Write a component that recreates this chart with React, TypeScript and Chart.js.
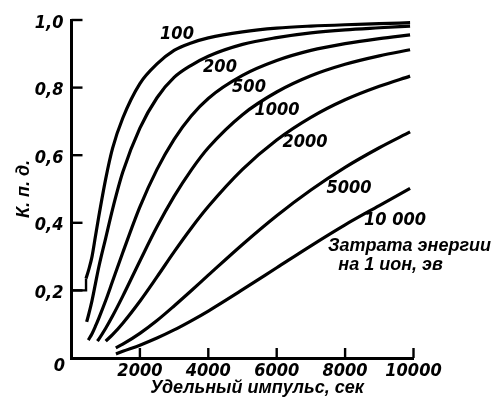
import React, { useEffect, useRef } from "react";
import { Chart, registerables } from "chart.js";

Chart.register(...registerables);

// Energy cost per ion, eV (curve labels)
const energyLabels = ["100", "200", "500", "1000", "2000", "5000", "10 000"];

// Specific impulse (s) and efficiency for each curve
const isp100 = [425, 500, 600, 700, 800, 1000, 1200, 1500, 2000, 2500, 3000, 3500, 4000, 5000, 6000, 7000, 8000, 9000, 9900];
const eff100 = [0.235, 0.26, 0.3, 0.36, 0.42, 0.53, 0.62, 0.71, 0.812, 0.87, 0.91, 0.932, 0.947, 0.965, 0.976, 0.982, 0.986, 0.989, 0.992];

const isp200 = [444, 500, 600, 700, 800, 1000, 1200, 1500, 2000, 2500, 3000, 3500, 4000, 5000, 6000, 7000, 8000, 9000, 9900];
const eff200 = [0.107, 0.128, 0.17, 0.22, 0.27, 0.355, 0.44, 0.55, 0.68, 0.77, 0.83, 0.866, 0.893, 0.928, 0.948, 0.962, 0.971, 0.977, 0.982];

const isp500 = [491, 600, 700, 800, 1000, 1200, 1500, 2000, 2500, 3000, 3500, 4000, 5000, 6000, 7000, 8000, 9000, 9900];
const eff500 = [0.053, 0.072, 0.094, 0.118, 0.17, 0.227, 0.312, 0.447, 0.558, 0.647, 0.716, 0.768, 0.836, 0.88, 0.91, 0.93, 0.945, 0.956];

const isp1000 = [754, 800, 1000, 1200, 1500, 2000, 2500, 3000, 3500, 4000, 5000, 6000, 7000, 8000, 9000, 9900];
const eff1000 = [0.05, 0.056, 0.088, 0.124, 0.183, 0.287, 0.388, 0.478, 0.556, 0.622, 0.72, 0.787, 0.835, 0.869, 0.894, 0.912];

const isp2000 = [1000, 1200, 1500, 2000, 2500, 3000, 3500, 4000, 5000, 6000, 7000, 8000, 9000, 9900];
const eff2000 = [0.05, 0.069, 0.103, 0.168, 0.24, 0.314, 0.384, 0.448, 0.558, 0.645, 0.712, 0.764, 0.804, 0.834];

const isp5000 = [1295, 1500, 2000, 2500, 3000, 3500, 4000, 5000, 6000, 7000, 8000, 9000, 9900];
const eff5000 = [0.03, 0.041, 0.073, 0.111, 0.154, 0.199, 0.245, 0.336, 0.421, 0.497, 0.564, 0.622, 0.669];

const isp10000 = [1300, 1500, 2000, 2500, 3000, 3500, 4000, 5000, 6000, 7000, 8000, 9000, 9900];
const eff10000 = [0.012, 0.02, 0.038, 0.059, 0.083, 0.11, 0.139, 0.202, 0.267, 0.332, 0.394, 0.451, 0.502];

// small step drawn at the 0,2 mark
const stepIsp = [0, 425, 425];
const stepEff = [0.2, 0.2, 0.235];

// axis ticks
const xTickValues = [2000, 4000, 6000, 8000, 10000];
const xTickLabels = ["2000", "4000", "6000", "8000", "10000"];
const yTickValues = [0.2, 0.4, 0.6, 0.8, 1.0];
const yTickLabels = ["0,2", "0,4", "0,6", "0,8", "1,0"];

const xTitle = "Удельный импульс, сек";
const yTitle = "К. п. д.";
const legendLine1 = "Затрата энергии";
const legendLine2 = "на 1 ион, эв";

// label anchor positions in data coordinates (isp, eff)
const labelAnchors: [number, number][] = [
  [3085, 0.959],
  [4342, 0.861],
  [5190, 0.802],
  [6009, 0.734],
  [6827, 0.639],
  [8114, 0.503],
  [9459, 0.408],
];

const curves = [
  [isp100, eff100],
  [isp200, eff200],
  [isp500, eff500],
  [isp1000, eff1000],
  [isp2000, eff2000],
  [isp5000, eff5000],
  [isp10000, eff10000],
];

const DIGIT_FONT = 'italic bold 18px "DejaVu Sans Condensed", "Liberation Sans Narrow", sans-serif';
const WORD_FONT = 'italic bold 18px "Liberation Sans", Arial, sans-serif';

const decorPlugin = {
  id: "decor",
  afterDraw(chart: any) {
    const ctx = chart.ctx;
    const xs = chart.scales.x;
    const ys = chart.scales.y;
    const area = chart.chartArea;
    ctx.save();
    ctx.strokeStyle = "#000";
    ctx.fillStyle = "#000";
    ctx.lineWidth = 2.4;
    // y ticks (inward)
    yTickValues.forEach((v, i) => {
      const py = ys.getPixelForValue(v);
      ctx.beginPath();
      ctx.moveTo(area.left, py);
      ctx.lineTo(area.left + 11, py);
      ctx.stroke();
      ctx.font = DIGIT_FONT;
      ctx.textAlign = "right";
      ctx.textBaseline = "middle";
      ctx.fillText(yTickLabels[i], area.left - 8, py + 3);
    });
    // x ticks (inward)
    xTickValues.forEach((v, i) => {
      const px = xs.getPixelForValue(v);
      ctx.beginPath();
      ctx.moveTo(px, area.bottom);
      ctx.lineTo(px, area.bottom - 10);
      ctx.stroke();
      ctx.font = DIGIT_FONT;
      ctx.textAlign = "center";
      ctx.textBaseline = "middle";
      ctx.fillText(xTickLabels[i], px, area.bottom + 13);
    });
    // origin
    ctx.font = DIGIT_FONT;
    ctx.textAlign = "center";
    ctx.textBaseline = "middle";
    ctx.fillText("0", area.left - 12, area.bottom + 8);

    // curve labels
    energyLabels.forEach((t, i) => {
      const [lx, ly] = labelAnchors[i];
      ctx.font = DIGIT_FONT;
      ctx.textAlign = "center";
      ctx.textBaseline = "middle";
      ctx.fillText(t, xs.getPixelForValue(lx), ys.getPixelForValue(ly));
    });

    // legend text
    ctx.font = WORD_FONT;
    ctx.textAlign = "left";
    ctx.textBaseline = "middle";
    ctx.fillText(legendLine1, xs.getPixelForValue(7500), ys.getPixelForValue(0.331));
    ctx.fillText(legendLine2, xs.getPixelForValue(7800), ys.getPixelForValue(0.275));

    // axis titles
    ctx.font = WORD_FONT;
    ctx.textAlign = "center";
    ctx.textBaseline = "middle";
    ctx.fillText(xTitle, 257, area.bottom + 30);
    ctx.save();
    ctx.translate(24, (area.top + area.bottom) / 2);
    ctx.rotate(-Math.PI / 2);
    ctx.fillText(yTitle, 0, 0);
    ctx.restore();

    ctx.restore();
  },
};

export default function App() {
  const ref = useRef<HTMLCanvasElement | null>(null);
  useEffect(() => {
    if (!ref.current) return;
    const datasets: any[] = curves.map(([xsArr, ysArr]) => ({
      data: xsArr.map((x, i) => ({ x, y: ysArr[i] })),
      borderColor: "#000",
      borderWidth: 3.2,
      pointRadius: 0,
      fill: false,
      cubicInterpolationMode: "monotone",
    }));
    datasets.push({
      data: stepIsp.map((x, i) => ({ x, y: stepEff[i] })),
      borderColor: "#000",
      borderWidth: 2.4,
      pointRadius: 0,
      fill: false,
      tension: 0,
    });
    const chart = new Chart(ref.current, {
      type: "line",
      data: { datasets },
      options: {
        animation: false,
        responsive: false,
        maintainAspectRatio: false,
        layout: { padding: { top: 20, right: 79.5, left: 0, bottom: 0 } },
        plugins: { legend: { display: false }, tooltip: { enabled: false } },
        scales: {
          x: {
            type: "linear",
            min: 0,
            max: 10000,
            ticks: { display: false },
            grid: { display: false, drawTicks: false },
            border: { display: true, width: 3, color: "#000" },
            afterFit: (s: any) => {
              s.height = 40;
            },
          },
          y: {
            type: "linear",
            min: 0,
            max: 1,
            ticks: { display: false },
            grid: { display: false, drawTicks: false },
            border: { display: true, width: 3, color: "#000" },
            afterFit: (s: any) => {
              s.width = 71.5;
            },
          },
        },
      } as any,
      plugins: [decorPlugin],
    });
    return () => chart.destroy();
  }, []);
  return (
    <div style={{ position: "fixed", left: 0, top: 0, width: 493, height: 398, background: "#fff" }}>
      <canvas ref={ref} width={493} height={398} style={{ display: "block" }} />
    </div>
  );
}
